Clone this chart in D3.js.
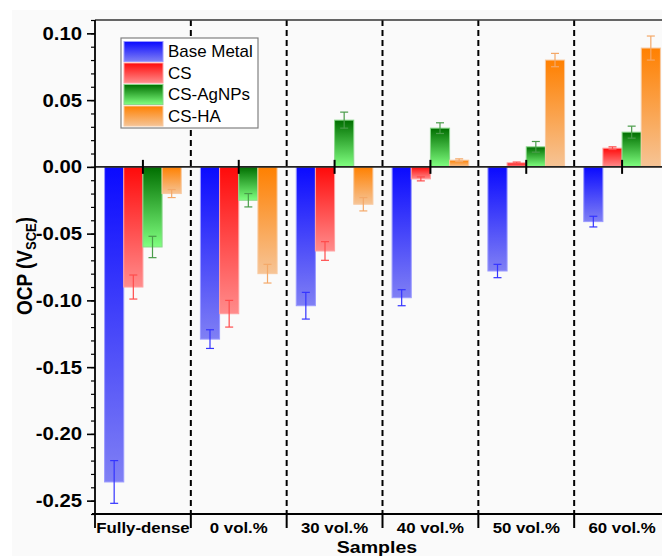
<!DOCTYPE html>
<html><head><meta charset="utf-8">
<script src="https://cdn.jsdelivr.net/npm/d3@7"></script>
<style>
html,body{margin:0;padding:0;background:#fff;}
svg{display:block;font-family:"Liberation Sans",Arial,sans-serif;}
</style></head>
<body>
<svg id="chart" width="662" height="556"></svg>
<script>
const categories = ["Fully-dense","0 vol.%","30 vol.%","40 vol.%","50 vol.%","60 vol.%"];
const seriesNames = ["Base Metal","CS","CS-AgNPs","CS-HA"];
const baseMetal    = [-0.236,-0.129,-0.104,-0.098,-0.078,-0.041];
const baseMetalErr = [ 0.016, 0.007, 0.010, 0.006, 0.005, 0.004];
const cs           = [-0.090,-0.110,-0.063,-0.009, 0.003, 0.014];
const csErr        = [ 0.009, 0.010, 0.007, 0.0015,0.0006,0.001];
const csAgNPs      = [-0.060,-0.025, 0.035, 0.029, 0.015, 0.026];
const csAgNPsErr   = [ 0.008, 0.005, 0.006, 0.004, 0.004, 0.0045];
const csHA         = [-0.020,-0.080,-0.028, 0.005, 0.080, 0.089];
const csHAErr      = [ 0.003, 0.007, 0.005, 0.001, 0.005, 0.009];
const yTicks = [0.10,0.05,0.00,-0.05,-0.10,-0.15,-0.20,-0.25];
const yMinorTicks = d3.range(-0.26,0.1101,0.01).map(v=>+v.toFixed(2));
const yTitle = "OCP (V";
const yTitleSub = "SCE";
const xTitle = "Samples";

const seriesValues = [baseMetal, cs, csAgNPs, csHA];
const seriesErrs = [baseMetalErr, csErr, csAgNPsErr, csHAErr];
const gradTop = ["#0a0aff","#ff0a0a","#006e00","#ff8000"];
const gradBot = ["#8080f4","#ff8c8c","#80ff80","#f6c496"];
const errCol = ["#3434ff","#ff4c4c","#4a9c4a","#f4a868"];
const strokeCol = ["#9a9aff","#ffa0a0","#8ad88a","#f8c9a0"];

const svg = d3.select("#chart");
const L = 95, R = 670, T = 20, B = 514;

svg.append("rect").attr("x",12).attr("y",10).attr("width",650).attr("height",546).attr("fill","#fafafa");

const defs = svg.append("defs");
seriesNames.forEach((s,i)=>{
  const g = defs.append("linearGradient").attr("id","g"+i)
    .attr("x1",0).attr("y1",0).attr("x2",0).attr("y2",1);
  g.append("stop").attr("offset","0%").attr("stop-color",gradTop[i]);
  g.append("stop").attr("offset","100%").attr("stop-color",gradBot[i]);
});

const x = d3.scaleBand().domain(categories).range([L,R]).paddingInner(0).paddingOuter(0);
const xs = d3.scaleBand().domain(seriesNames).range([x.bandwidth()*0.1, x.bandwidth()*0.9]).padding(0);
const y = d3.scaleLinear().domain([-0.26,0.11]).range([B,T]);

// dashed separators
const seps = categories.slice(1).map(c=>x(c));
svg.append("g").selectAll("line").data(seps).join("line")
  .attr("x1",d=>d).attr("x2",d=>d).attr("y1",T).attr("y2",B)
  .attr("stroke","#000").attr("stroke-width",2).attr("stroke-dasharray","6,4");

// bars
const data = [];
categories.forEach((c,ci)=>seriesNames.forEach((s,si)=>{
  data.push({c, s, si, v:seriesValues[si][ci], e:seriesErrs[si][ci]});
}));
svg.append("g").selectAll("rect").data(data).join("rect")
  .attr("x",d=>x(d.c)+xs(d.s))
  .attr("width",xs.bandwidth())
  .attr("y",d=>y(Math.max(0,d.v)))
  .attr("height",d=>Math.abs(y(d.v)-y(0)))
  .attr("fill",d=>`url(#g${d.si})`)
  .attr("stroke",d=>strokeCol[d.si]).attr("stroke-width",1);

// error bars
const eg = svg.append("g");
data.forEach(d=>{
  const cx = x(d.c)+xs(d.s)+xs.bandwidth()/2;
  const y1 = y(d.v-d.e), y2 = y(d.v+d.e);
  eg.append("line").attr("x1",cx).attr("x2",cx).attr("y1",y1).attr("y2",y2).attr("stroke",errCol[d.si]).attr("stroke-width",1.2);
  [y1,y2].forEach(yy=>eg.append("line").attr("x1",cx-4).attr("x2",cx+4).attr("y1",yy).attr("y2",yy).attr("stroke",errCol[d.si]).attr("stroke-width",1.2));
});

// zero line
svg.append("line").attr("x1",L).attr("x2",R).attr("y1",y(0)).attr("y2",y(0)).attr("stroke","#222").attr("stroke-width",1.6);
// center ticks on zero line
svg.append("g").selectAll("line").data(categories).join("line")
  .attr("x1",d=>x(d)+x.bandwidth()/2).attr("x2",d=>x(d)+x.bandwidth()/2)
  .attr("y1",y(0)-7).attr("y2",y(0)+7).attr("stroke","#000").attr("stroke-width",2);

// top border
svg.append("line").attr("x1",L).attr("x2",R).attr("y1",T).attr("y2",T).attr("stroke","#333").attr("stroke-width",1.6);

// y axis
const fmt = d3.formatLocale({decimal:".",thousands:",",grouping:[3],currency:["",""],minus:"-"}).format(".2f");
const yMinor = svg.append("g").attr("transform",`translate(${L},0)`)
  .call(d3.axisLeft(y).tickValues(yMinorTicks).tickSize(4).tickFormat(""));
yMinor.select(".domain").remove();
yMinor.selectAll("line").attr("stroke","#000").attr("stroke-width",1.2);
const yAx = svg.append("g").attr("transform",`translate(${L},0)`)
  .call(d3.axisLeft(y).tickValues(yTicks).tickSize(8).tickFormat(fmt));
yAx.select(".domain").attr("d",`M0,${T}V${B+14}`).attr("stroke","#000").attr("stroke-width",1.8);
yAx.selectAll(".tick line").attr("stroke","#000").attr("stroke-width",1.6);
yAx.selectAll(".tick text").attr("x",0).attr("dy",0)
  .attr("transform","translate(-13,6) scale(1.13,1)")
  .attr("font-size",18).attr("font-weight","bold").attr("fill","#000")
  .attr("font-family","'Liberation Sans',Arial,sans-serif").attr("text-anchor","end");

// x axis
const xAx = svg.append("g").attr("transform",`translate(0,${B})`)
  .call(d3.axisBottom(x).tickSize(0).tickPadding(0));
xAx.select(".domain").attr("d",`M${L-3},0H${R}`).attr("stroke","#000").attr("stroke-width",1.8);
xAx.selectAll(".tick text").attr("y",0).attr("dy",0)
  .attr("transform","translate(0,19) scale(1.16,1)")
  .attr("font-size",14.5).attr("font-weight","bold").attr("fill","#000")
  .attr("font-family","'Liberation Sans',Arial,sans-serif");
// boundary ticks at bottom
svg.append("g").selectAll("line").data(seps).join("line")
  .attr("x1",d=>d).attr("x2",d=>d).attr("y1",B).attr("y2",B+14)
  .attr("stroke","#000").attr("stroke-width",2);

// axis titles
svg.append("text").attr("transform",`translate(377,553) scale(1.15,1)`)
  .attr("text-anchor","middle").attr("font-size",17).attr("font-weight","bold").text(xTitle);
const yt = svg.append("text").attr("transform",`translate(32,266) rotate(-90) scale(1,1.12)`)
  .attr("text-anchor","middle").attr("font-size",19).attr("font-weight","bold");
yt.append("tspan").text(yTitle);
yt.append("tspan").attr("font-size",13).attr("dy",4).text(yTitleSub);
yt.append("tspan").attr("dy",-4).text(")");

// legend
const lg = svg.append("g");
lg.append("rect").attr("x",121).attr("y",38).attr("width",137).attr("height",90)
  .attr("fill","#fff").attr("stroke","#808080").attr("stroke-width",1.2);
seriesNames.forEach((s,i)=>{
  const yy = 41.5 + i*21.5;
  lg.append("rect").attr("x",124).attr("y",yy).attr("width",39).attr("height",20)
    .attr("fill",`url(#g${i})`).attr("stroke",strokeCol[i]).attr("stroke-width",1);
  lg.append("text").attr("transform",`translate(168,${yy+15.5}) scale(1.06,1)`)
    .attr("font-size",16).attr("fill","#000").text(s);
});
</script>
</body></html>
